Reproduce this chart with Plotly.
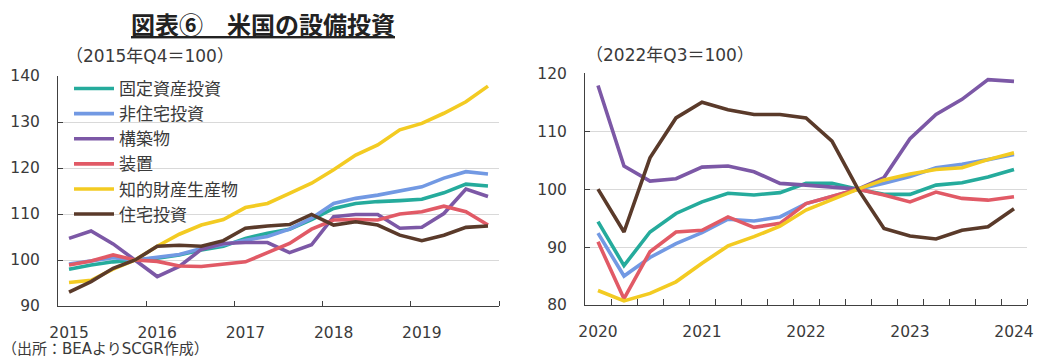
import plotly.graph_objects as go

# ---------------- data ----------------
quarters_left = ["2015Q1", "2015Q2", "2015Q3", "2015Q4",
                 "2016Q1", "2016Q2", "2016Q3", "2016Q4",
                 "2017Q1", "2017Q2", "2017Q3", "2017Q4",
                 "2018Q1", "2018Q2", "2018Q3", "2018Q4",
                 "2019Q1", "2019Q2", "2019Q3", "2019Q4"]
quarters_right = ["2020Q1", "2020Q2", "2020Q3", "2020Q4",
                  "2021Q1", "2021Q2", "2021Q3", "2021Q4",
                  "2022Q1", "2022Q2", "2022Q3", "2022Q4",
                  "2023Q1", "2023Q2", "2023Q3", "2023Q4",
                  "2024Q1"]
year_labels_left = ["2015", "2016", "2017", "2018", "2019"]
year_labels_right = ["2020", "2021", "2022", "2023", "2024"]

series_names = ["固定資産投資", "非住宅投資", "構築物", "装置", "知的財産生産物", "住宅投資"]

# left panel (2015Q4 = 100)
fixed_left = [98.0, 98.9, 99.6, 100.0, 100.4, 101.1, 102.2, 103.0, 104.7, 105.8,
              106.7, 108.8, 111.2, 112.3, 112.7, 112.9, 113.2, 114.6, 116.5, 116.1]
nonres_left = [99.1, 99.8, 100.5, 100.0, 100.6, 101.2, 102.5, 103.3, 104.3, 105.1,
               106.7, 109.1, 112.3, 113.4, 114.1, 115.1, 115.9, 117.8, 119.2, 118.7]
struct_left = [104.7, 106.3, 103.5, 100.0, 96.4, 98.6, 102.3, 103.6, 103.8, 103.8,
               101.6, 103.3, 109.4, 109.9, 109.9, 106.9, 107.1, 110.1, 115.4, 113.8]
equip_left = [98.9, 99.8, 101.1, 100.0, 99.7, 98.7, 98.6, 99.1, 99.6, 101.6,
              103.6, 106.7, 108.7, 108.8, 108.7, 110.0, 110.5, 111.7, 110.5, 107.6]
ipp_left = [95.1, 95.6, 98.0, 100.0, 103.0, 105.6, 107.6, 108.8, 111.4, 112.3,
            114.5, 116.7, 119.6, 122.8, 125.0, 128.3, 129.7, 131.9, 134.4, 137.8]
resid_left = [93.0, 95.3, 98.2, 100.0, 103.0, 103.2, 103.0, 104.2, 106.9, 107.4,
              107.7, 109.9, 107.6, 108.3, 107.6, 105.4, 104.2, 105.4, 107.1, 107.4]

# right panel (2022Q3 = 100)
fixed_right = [94.4, 86.8, 92.6, 95.8, 97.8, 99.3, 99.0, 99.4, 101.0, 101.0,
               100.0, 99.1, 99.1, 100.7, 101.1, 102.1, 103.4]
nonres_right = [92.4, 85.0, 88.2, 90.6, 92.5, 94.8, 94.5, 95.2, 97.5, 98.7,
                100.0, 101.0, 102.2, 103.7, 104.3, 105.1, 106.0]
struct_right = [117.9, 104.0, 101.4, 101.8, 103.8, 104.0, 103.0, 101.0, 100.7, 100.4,
                100.0, 102.0, 108.7, 112.9, 115.5, 118.9, 118.6]
equip_right = [90.9, 81.1, 89.2, 92.6, 92.9, 95.2, 93.4, 94.1, 97.5, 98.8,
               100.0, 99.0, 97.8, 99.5, 98.4, 98.1, 98.7]
ipp_right = [82.5, 80.7, 82.0, 84.0, 87.2, 90.2, 91.8, 93.6, 96.4, 98.2,
             100.0, 101.6, 102.6, 103.4, 103.7, 105.1, 106.3]
resid_right = [100.0, 92.6, 105.4, 112.3, 115.0, 113.7, 112.9, 112.9, 112.3, 108.3,
               100.0, 93.2, 91.9, 91.4, 92.9, 93.5, 96.6]

colors = ["#25ab9c", "#7299e3", "#7c58a6", "#e15a66", "#f3cb22", "#5a3a2a"]

left_series = [fixed_left, nonres_left, struct_left, equip_left, ipp_left, resid_left]
right_series = [fixed_right, nonres_right, struct_right, equip_right, ipp_right, resid_right]

# ---------------- figure ----------------
W, H = 1038, 360
fig = go.Figure()

x_left = list(range(len(quarters_left)))
x_right = list(range(len(quarters_right)))

for i, (name, vals) in enumerate(zip(series_names, left_series)):
    fig.add_trace(go.Scatter(
        x=x_left, y=vals, name=name, mode="lines",
        line=dict(color=colors[i], width=3.6),
        xaxis="x", yaxis="y", legendgroup=f"g{i}", showlegend=True,
        text=quarters_left, hovertemplate="%{text}: %{y}<extra>" + name + "</extra>",
    ))
for i, (name, vals) in enumerate(zip(series_names, right_series)):
    fig.add_trace(go.Scatter(
        x=x_right, y=vals, name=name, mode="lines",
        line=dict(color=colors[i], width=3.6),
        xaxis="x2", yaxis="y2", legendgroup=f"g{i}", showlegend=False,
        text=quarters_right, hovertemplate="%{text}: %{y}<extra>" + name + "</extra>",
    ))

axis_color = "#404040"
grid_color = "#d9d9d9"
tick_font = dict(family="DejaVu Sans, Noto Sans CJK JP", size=15.5, color="#3a3a3a")

left_year_pos = [quarters_left.index(y + "Q1") for y in year_labels_left]
right_year_pos = [quarters_right.index(y + "Q1") for y in year_labels_right]

common_x = dict(
    showline=True, linecolor=axis_color, linewidth=1, showgrid=False, zeroline=False,
    ticks="", tickmode="array", tickfont=tick_font, ticklabelstandoff=12, automargin=False,
)
common_y = dict(
    showline=True, linecolor=axis_color, linewidth=1, showgrid=True, gridcolor=grid_color,
    gridwidth=1, zeroline=False, ticks="inside", ticklen=5, tickcolor=axis_color,
    tickmode="linear", dtick=10, tickfont=tick_font, automargin=False,
)

fig.update_layout(
    width=W, height=H,
    margin=dict(l=0, r=0, t=0, b=0, pad=0, autoexpand=False),
    paper_bgcolor="white", plot_bgcolor="white",
    font=dict(family="Noto Sans CJK JP, DejaVu Sans", color="#3a3a3a"),
    showlegend=True,
    xaxis=dict(
        common_x, domain=[58 / W, 499 / W], range=[-0.5, len(quarters_left) - 0.5],
        tickvals=left_year_pos, ticktext=year_labels_left, anchor="y",
        minor=dict(tickmode="array",
                   tickvals=[p - 0.5 for p in left_year_pos[1:]] + [len(quarters_left) - 0.5],
                   ticks="inside", ticklen=5, tickcolor=axis_color, showgrid=False),
    ),
    yaxis=dict(common_y, domain=[1 - 306 / H, 1 - 76 / H], range=[90, 140], anchor="x",
               ticklabelstandoff=14),
    xaxis2=dict(
        common_x, domain=[585 / W, 1027 / W], range=[-0.5, len(quarters_right) - 0.5],
        tickvals=right_year_pos, ticktext=year_labels_right, anchor="y2",
        minor=dict(tickmode="array",
                   tickvals=[p + 0.5 for p in x_right],
                   ticks="inside", ticklen=6, tickcolor=axis_color, showgrid=False),
    ),
    yaxis2=dict(common_y, domain=[1 - 305 / H, 1 - 73.3 / H], range=[80, 120], anchor="x2",
                ticklabelstandoff=14),
    legend=dict(
        x=69 / W, y=1 - 71 / H, xanchor="left", yanchor="top",
        bgcolor="rgba(0,0,0,0)", borderwidth=0,
        font=dict(family="Noto Sans CJK JP, DejaVu Sans", size=17, color="#3a3a3a"),
        itemwidth=40, tracegroupgap=2, traceorder="normal",
    ),
    annotations=[
        dict(text="<b><u>図表⑥　米国の設備投資</u></b>", xref="paper", yref="paper",
             x=263 / W, y=1 - 24 / H, xanchor="center", yanchor="middle", showarrow=False,
             font=dict(family="Noto Sans CJK JP", size=24, color="#222222")),
        dict(text="（2015年Q4＝100）", xref="paper", yref="paper",
             x=64 / W, y=1 - 56 / H, xanchor="left", yanchor="middle", showarrow=False,
             font=dict(family="DejaVu Sans, Noto Sans CJK JP", size=17, color="#3a3a3a")),
        dict(text="（2022年Q3＝100）", xref="paper", yref="paper",
             x=584 / W, y=1 - 55 / H, xanchor="left", yanchor="middle", showarrow=False,
             font=dict(family="DejaVu Sans, Noto Sans CJK JP", size=17, color="#3a3a3a")),
        dict(text="（出所：BEAよりSCGR作成）", xref="paper", yref="paper",
             x=0 / W, y=1 - 349 / H, xanchor="left", yanchor="middle", showarrow=False,
             font=dict(family="DejaVu Sans, Noto Sans CJK JP", size=15, color="#3a3a3a")),
    ],
)

fig.write_html("out.html")
